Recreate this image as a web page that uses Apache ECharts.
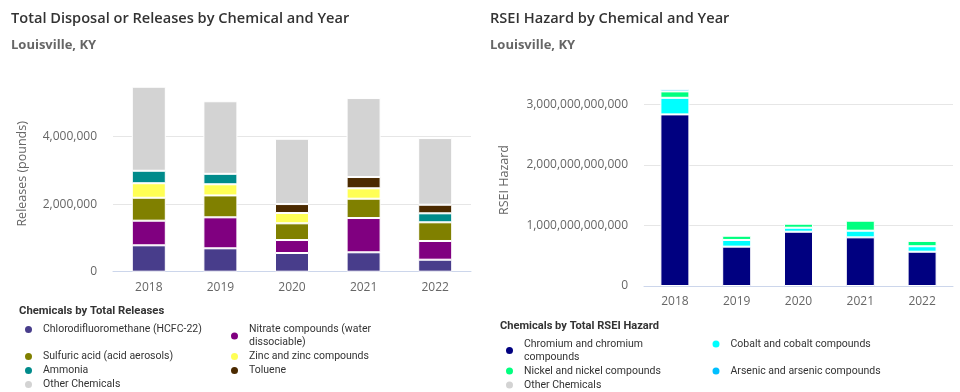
<!DOCTYPE html>
<html>
<head>
<meta charset="utf-8">
<script src="https://cdn.jsdelivr.net/npm/echarts@6/dist/echarts.min.js"></script>
<style>
html,body{margin:0;padding:0;background:#fff;}
#chart{width:960px;height:392px;}
</style>
</head>
<body>
<div id="chart"></div>
<script>
// ---- Data ----
var years = ['2018', '2019', '2020', '2021', '2022'];

var releaseNames = [
  'Chlorodifluoromethane (HCFC-22)',
  'Nitrate compounds (water dissociable)',
  'Sulfuric acid (acid aerosols)',
  'Zinc and zinc compounds',
  'Ammonia',
  'Toluene',
  'Other Chemicals'
];
var hcfc22   = [782000, 693000, 554000, 575000, 356000];
var nitrate  = [730000, 918000, 385000, 1016000, 554000];
var sulfuric = [680000, 650000, 495000, 572000, 554000];
var zinc     = [430000, 330000, 305000, 308000, null];
var ammonia  = [370000, 310000, null, null, 266000];
var toluene  = [null, null, 266000, 335000, 255000];
var otherRel = [2490000, 2150000, 1935000, 2340000, 1975000];
var releaseValues = [hcfc22, nitrate, sulfuric, zinc, ammonia, toluene, otherRel];
var releaseColors = ['#483D8B', '#800080', '#808000', '#FFFF55', '#008B8B', '#4B2A00', '#D3D3D3'];

var hazardNames = [
  'Chromium and chromium compounds',
  'Cobalt and cobalt compounds',
  'Nickel and nickel compounds',
  'Arsenic and arsenic compounds',
  'Other Chemicals'
];
var chromium = [2.833e12, 0.650e12, 0.896e12, 0.803e12, 0.566e12];
var cobalt   = [0.274e12, 0.110e12, 0.066e12, 0.110e12, 0.090e12];
var nickel   = [0.106e12, 0.070e12, 0.066e12, 0.165e12, 0.088e12];
var arsenic  = [0.037e12, null, null, null, null];
var otherHaz = [null, null, null, null, null];
var hazardValues = [chromium, cobalt, nickel, arsenic, otherHaz];
var hazardColors = ['#000080', '#00FFFF', '#00FF7F', '#00BFFF', '#D3D3D3'];

var releaseTicks = [0, 2000000, 4000000];
var hazardTicks = [0, 1e12, 2e12, 3e12];

// ---- Styles ----
var FONT = 'Open Sans';
var LFONT = 'Roboto';
var fmt = function (v) { return Math.round(v).toString().replace(/\B(?=(\d{3})+(?!\d))/g, ','); };

var series = [];
releaseNames.forEach(function (n, i) {
  series.push({
    name: n, type: 'bar', stack: 'rel', xAxisIndex: 0, yAxisIndex: 0,
    barWidth: 34, data: releaseValues[i],
    itemStyle: { color: releaseColors[i], borderColor: '#ffffff', borderWidth: 1 },
    emphasis: { disabled: true }
  });
});
hazardNames.forEach(function (n, i) {
  series.push({
    name: n + ' ', type: 'bar', stack: 'haz', xAxisIndex: 1, yAxisIndex: 1,
    barWidth: 29, data: hazardValues[i],
    itemStyle: { color: hazardColors[i], borderColor: '#ffffff', borderWidth: 1 },
    emphasis: { disabled: true }
  });
});

// legend layout (positions only)
var relLegendPos = [
  [23, 323, 220], [229, 323, 150],
  [23, 350, 220], [229, 350, 200],
  [23, 364, 220], [229, 364, 200],
  [23, 378, 220]
];
var hazLegendPos = [
  [504, 337.5, 140], [710.5, 337.5, 220],
  [504, 364.5, 200], [710.5, 364.5, 220],
  [504, 378.5, 200]
];
var legends = [];
function mkLegend(name, pos) {
  return {
    data: [name], left: pos[0], top: pos[1], padding: 0,
    icon: 'circle', itemWidth: 9, itemHeight: 9, itemGap: 0,
    selectedMode: false,
    formatter: function (s) { return s.trim(); },
    textStyle: {
      fontFamily: LFONT, fontSize: 10.5, color: '#333333', lineHeight: 13,
      width: pos[2], overflow: 'break', padding: [0, 0, 0, 5]
    }
  };
}
releaseNames.forEach(function (n, i) { legends.push(mkLegend(n, relLegendPos[i])); });
hazardNames.forEach(function (n, i) { legends.push(mkLegend(n + ' ', hazLegendPos[i])); });

var axisLabelStyle = { fontFamily: FONT, fontSize: 12, color: '#666666' };

var option = {
  animation: false,
  backgroundColor: '#ffffff',
  title: [
    { text: 'Total Disposal or Releases by Chemical and Year', left: 6, top: 6,
      textStyle: { fontFamily: FONT, fontSize: 14.6, fontWeight: 600, color: '#333333' } },
    { text: 'Louisville, KY', left: 6, top: 34,
      textStyle: { fontFamily: FONT, fontSize: 13, fontWeight: 'bold', color: '#666666' } },
    { text: 'RSEI Hazard by Chemical and Year', left: 485, top: 6,
      textStyle: { fontFamily: FONT, fontSize: 14.6, fontWeight: 600, color: '#333333' } },
    { text: 'Louisville, KY', left: 485, top: 34,
      textStyle: { fontFamily: FONT, fontSize: 13, fontWeight: 'bold', color: '#666666' } },
    { text: 'Chemicals by Total Releases', left: 14, top: 300.5,
      textStyle: { fontFamily: LFONT, fontSize: 11.3, fontWeight: 'bold', color: '#333333' } },
    { text: 'Chemicals by Total RSEI Hazard', left: 495, top: 315.5,
      textStyle: { fontFamily: LFONT, fontSize: 11.1, fontWeight: 'bold', color: '#333333' } }
  ],
  legend: legends,
  grid: [
    { left: 113, right: 489, top: 76, bottom: 120.3 },
    { left: 644, right: 7, top: 74, bottom: 106 }
  ],
  xAxis: [0, 1].map(function (i) {
    return {
      type: 'category', gridIndex: i, data: years,
      axisLine: { lineStyle: { color: '#ccd6eb', width: 1 } },
      axisTick: { show: false },
      axisLabel: Object.assign({ margin: 10 }, axisLabelStyle)
    };
  }),
  yAxis: [
    {
      type: 'value', gridIndex: 0, min: 0, max: 5800000, interval: 2000000,
      name: 'Releases (pounds)', nameLocation: 'middle', nameGap: 84, nameRotate: 90,
      nameTextStyle: { fontFamily: FONT, fontSize: 12.5, color: '#666666' },
      axisLine: { show: false }, axisTick: { show: false },
      axisLabel: Object.assign({ margin: 16, showMaxLabel: false,
        formatter: function (v) { return releaseTicks.indexOf(v) >= 0 ? fmt(v) : ''; } }, axisLabelStyle),
      splitLine: { showMaxLine: false, lineStyle: { color: '#e6e6e6' } }
    },
    {
      type: 'value', gridIndex: 1, min: 0, max: 3.5e12, interval: 1e12,
      name: 'RSEI Hazard', nameLocation: 'middle', nameGap: 133, nameRotate: 90,
      nameTextStyle: { fontFamily: FONT, fontSize: 12.5, color: '#666666' },
      axisLine: { show: false }, axisTick: { show: false },
      axisLabel: Object.assign({ margin: 16, showMaxLabel: false,
        formatter: function (v) { return hazardTicks.indexOf(v) >= 0 ? fmt(v) : ''; } }, axisLabelStyle),
      splitLine: { showMaxLine: false, lineStyle: { color: '#e6e6e6' } }
    }
  ],
  series: series
};

var chart = echarts.init(document.getElementById('chart'), null, { renderer: 'canvas' });
chart.setOption(option);
</script>
</body>
</html>
